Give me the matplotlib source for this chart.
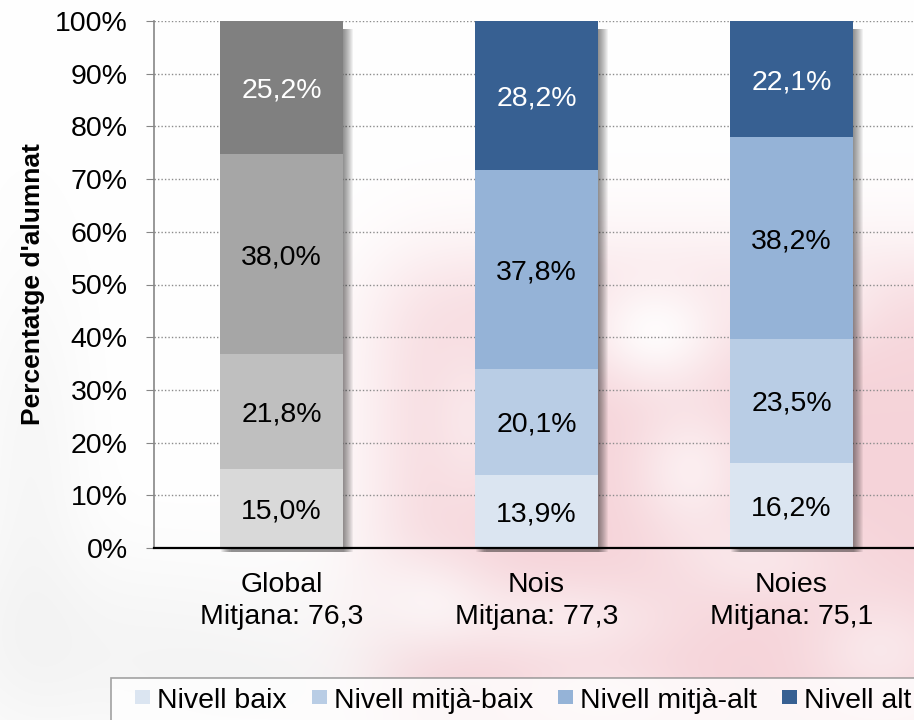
import numpy as np
import matplotlib
matplotlib.use("Agg")
import matplotlib.pyplot as plt
from matplotlib.patches import Rectangle
from matplotlib.legend_handler import HandlerPatch

plt.rcParams['font.family'] = ['Liberation Sans', 'DejaVu Sans']

categories = ["Global\nMitjana: 76,3", "Nois\nMitjana: 77,3", "Noies\nMitjana: 75,1"]
levels = ["Nivell baix", "Nivell mitjà-baix", "Nivell mitjà-alt", "Nivell alt"]
baix = [15.0, 13.9, 16.2]
mitja_baix = [21.8, 20.1, 23.5]
mitja_alt = [38.0, 37.8, 38.2]
alt = [25.2, 28.2, 22.1]
series = [baix, mitja_baix, mitja_alt, alt]

gray_colors = ["#d9d9d9", "#bfbfbf", "#a6a6a6", "#808080"]
blue_colors = ["#dbe5f1", "#b9cde5", "#95b3d7", "#376092"]
label_colors = ["black", "black", "black", "white"]

W, H = 914, 720
fig = plt.figure(figsize=(W / 100, H / 100), dpi=100)

# faint watermark-like background
bg = fig.add_axes([0, 0, 1, 1], zorder=-10)
yy, xx = np.mgrid[0:H, 0:W].astype(float)
def blob(cx, cy, sx, sy):
    return np.exp(-(((xx - cx) / sx) ** 2 + ((yy - cy) / sy) ** 2) / 2)
def sig(v):
    return 1 / (1 + np.exp(-v))
pink = sig((xx - 385) / 30) * sig((yy - 265) / 30)
pink = pink * (1 - 0.9 * blob(655, 330, 50, 40) - 0.6 * blob(690, 470, 40, 45)
               - 0.6 * blob(420, 600, 50, 35) - 0.5 * blob(560, 620, 80, 30)
               - 0.45 * blob(880, 650, 50, 40) - 0.55 * blob(810, 300, 45, 35)
               - 0.4 * blob(470, 420, 30, 60) - 0.4 * blob(760, 560, 60, 30)
               - 0.4 * blob(600, 700, 60, 25))
pink = np.clip(pink, 0, 1) * 0.85
grey = np.clip(0.6 * blob(130, 650, 170, 70) + 0.5 * blob(30, 470, 40, 150)
               + 0.3 * blob(260, 700, 80, 40), 0, 1) * 0.06
img = np.ones((H, W, 3))
pc = np.array([0.957, 0.80, 0.825])
for c in range(3):
    img[..., c] = 1 - pink * (1 - pc[c]) - grey
bg.imshow(img, aspect='auto', extent=[0, W, H, 0])
bg.axis('off')

ax = fig.add_axes([154 / W, 1 - 548 / H, 765 / W, 527 / H])
ax.set_facecolor('none')

x = np.arange(len(categories))
width = 0.48
bottoms = np.zeros(len(categories))
for i, vals in enumerate(series):
    cols = [gray_colors[i], blue_colors[i], blue_colors[i]]
    bars = ax.bar(x, vals, width, bottom=bottoms, color=cols, zorder=3,
                  label=levels[i], linewidth=0)
    for j, b in enumerate(bars):
        cy = bottoms[j] + vals[j] / 2
        ax.text(b.get_x() + b.get_width() / 2, cy - 0.6,
                f"{vals[j]:.1f}%".replace('.', ','), ha='center', va='center',
                fontsize=20.5, color=label_colors[i], zorder=5)
    bottoms = bottoms + np.array(vals)

# drop shadows
for j in range(len(categories)):
    x0 = x[j] - width / 2
    for dx in np.linspace(0.004, 0.04, 10):
        ax.add_patch(Rectangle((x0 + dx, -0.8), width, bottoms[j] - 0.7,
                               color='black', alpha=0.05, lw=0, zorder=2,
                               clip_on=False))

ax.set_xlim(-0.5, 2.5)
ax.set_ylim(0, 100)
ax.set_yticks(np.arange(0, 101, 10))
ax.set_yticklabels([f"{v}%" for v in range(0, 101, 10)], fontsize=20.5)
ax.set_xticks(x)
ax.set_xticklabels(categories, fontsize=20.5, linespacing=1.3)
ax.tick_params(axis='x', length=0, pad=17)
ax.tick_params(axis='y', length=6, color='#868686', pad=13, direction='out')
ax.yaxis.grid(True, linestyle=(0, (1, 1.5)), color='#8c8c8c', linewidth=1, zorder=0)
ax.set_axisbelow(True)
for s in ['top', 'right']:
    ax.spines[s].set_visible(False)
ax.spines['left'].set_color('#868686')
ax.spines['left'].set_linewidth(1.2)
ax.spines['bottom'].set_color('black')
ax.spines['bottom'].set_linewidth(1.6)
ax.spines['bottom'].set_zorder(6)
ax.set_ylabel("Percentatge d'alumnat", fontsize=19, fontweight='bold', labelpad=7)

SQW, SQH = 10.8, 10.1  # points

def square(legend, orig_handle, xdescent, ydescent, width, height, fontsize):
    return Rectangle((-xdescent + width - SQW, -ydescent + (height - SQH) / 2 + 0.5),
                     SQW, SQH)

handles = [Rectangle((0, 0), 1, 1, color=c, lw=0) for c in blue_colors]
leg = fig.legend(handles, levels, ncol=4, loc='upper left',
                 bbox_to_anchor=(111 / W, 1 - 678 / H), fontsize=20.5,
                 frameon=True, fancybox=False, edgecolor='#8c8c8c',
                 handlelength=1.02, handleheight=0.7, handletextpad=0.25,
                 columnspacing=0.38, borderpad=0.35, borderaxespad=0,
                 handler_map={Rectangle: HandlerPatch(patch_func=square)})
leg.get_frame().set_linewidth(1.2)
leg.get_frame().set_facecolor('white')

fig.savefig("out.png", dpi=100)
